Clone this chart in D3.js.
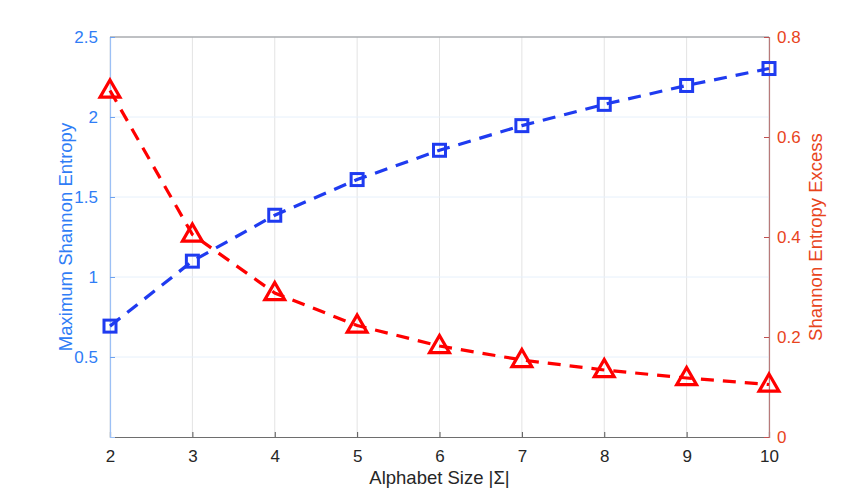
<!DOCTYPE html>
<html><head><meta charset="utf-8">
<script src="https://cdn.jsdelivr.net/npm/d3@7"></script>
<style>body{margin:0;background:#fff}svg{display:block;font-family:"Liberation Sans",Arial,sans-serif}</style>
</head><body><svg id="c" width="850" height="491"></svg>
<script>
const alphabetSizes = [2,3,4,5,6,7,8,9,10];
const maxEntropy = [0.693,1.099,1.386,1.609,1.792,1.946,2.079,2.197,2.303];
const entropyExcess = [0.693,0.405,0.288,0.223,0.182,0.154,0.134,0.118,0.105];
const xTicks = [2,3,4,5,6,7,8,9,10];
const leftTicks = [0.5,1,1.5,2,2.5];
const rightTicks = [0,0.2,0.4,0.6,0.8];

const svg = d3.select("#c");
const L=110,R=769,T=37,B=437;
const x = d3.scaleLinear().domain([2,10]).range([L,R]);
const yL = d3.scaleLinear().domain([0,2.5]).range([B,T]);
const yR = d3.scaleLinear().domain([0,0.8]).range([B,T]);
const blueTxt="#2f7df6", redTxt="#e8441c", blueLine="#1f3bf0", redLine="#ff0000";
const FONT="Liberation Sans, Arial, sans-serif";

// grid
const g=svg.append("g");
xTicks.forEach(t=>g.append("line").attr("x1",x(t)).attr("x2",x(t)).attr("y1",T).attr("y2",B).attr("stroke","#e3e3e3").attr("stroke-width",1));
leftTicks.forEach(t=>g.append("line").attr("x1",L).attr("x2",R).attr("y1",yL(t)).attr("y2",yL(t)).attr("stroke","#e6f0fb").attr("stroke-width",1));

// box top
svg.append("line").attr("x1",L).attr("x2",R).attr("y1",T).attr("y2",T).attr("stroke","#8a8a8a");

// bottom axis
const xa = svg.append("g").attr("transform",`translate(0,${B})`)
 .call(d3.axisBottom(x).tickValues(xTicks).tickSize(-5).tickPadding(13).tickFormat(d3.format("d")));
xa.attr("font-size",null).attr("font-family",null);
xa.select(".domain").attr("stroke","#6e6e6e").attr("stroke-width",1.2);
xa.selectAll(".tick line").attr("stroke","#555");
xa.selectAll("text").attr("fill","#262626").attr("font-size",17).attr("font-family",FONT);

// left axis
const la = svg.append("g").attr("transform",`translate(${L},0)`)
 .call(d3.axisLeft(yL).tickValues(leftTicks).tickSize(-5).tickPadding(12).tickFormat(d=>String(d)));
la.attr("font-size",null).attr("font-family",null);
la.select(".domain").attr("stroke","#9cc0f5").attr("stroke-width",1.2);
la.selectAll(".tick line").attr("stroke","#6fa3f0");
la.selectAll("text").attr("fill",blueTxt).attr("font-size",17).attr("font-family",FONT);

// right axis
const ra = svg.append("g").attr("transform",`translate(${R},0)`)
 .call(d3.axisRight(yR).tickValues(rightTicks).tickSize(-5).tickPadding(8).tickFormat(d=>String(d)));
ra.attr("font-size",null).attr("font-family",null);
ra.select(".domain").attr("stroke","#b87a7a").attr("stroke-width",1.2);
ra.selectAll(".tick line").attr("stroke","#c05050");
ra.selectAll("text").attr("fill",redTxt).attr("font-size",17).attr("font-family",FONT);

// labels
svg.append("text").attr("transform",`translate(72,${(T+B)/2}) rotate(-90)`).attr("text-anchor","middle")
 .attr("fill",blueTxt).attr("font-size",18.5).attr("font-family",FONT).text("Maximum Shannon Entropy");
svg.append("text").attr("transform",`translate(822,${(T+B)/2}) rotate(-90)`).attr("text-anchor","middle")
 .attr("fill",redTxt).attr("font-size",18.5).attr("font-family",FONT).text("Shannon Entropy Excess");
svg.append("text").attr("x",(L+R)/2).attr("y",484).attr("text-anchor","middle")
 .attr("fill","#262626").attr("font-size",18.5).attr("font-family",FONT).text("Alphabet Size |Σ|");

// lines
const blueData = alphabetSizes.map((a,i)=>[a,maxEntropy[i]]);
const redData = alphabetSizes.map((a,i)=>[a,entropyExcess[i]]);
svg.append("path").datum(blueData).attr("d",d3.line().x(d=>x(d[0])).y(d=>yL(d[1])))
 .attr("fill","none").attr("stroke",blueLine).attr("stroke-width",3.2).attr("stroke-dasharray","13,9");
svg.append("path").datum(redData).attr("d",d3.line().x(d=>x(d[0])).y(d=>yR(d[1])))
 .attr("fill","none").attr("stroke",redLine).attr("stroke-width",3.2).attr("stroke-dasharray","13,9");

// markers
svg.selectAll(".sq").data(blueData).join("rect")
 .attr("x",d=>x(d[0])-6).attr("y",d=>yL(d[1])-6).attr("width",12).attr("height",12)
 .attr("fill","none").attr("stroke",blueLine).attr("stroke-width",3);
const tri = d3.symbol().type(d3.symbolTriangle).size(170);
svg.selectAll(".tr").data(redData).join("path")
 .attr("transform",d=>`translate(${x(d[0])},${yR(d[1])+1})`).attr("d",tri)
 .attr("fill","none").attr("stroke",redLine).attr("stroke-width",3.2);
</script></body></html>
